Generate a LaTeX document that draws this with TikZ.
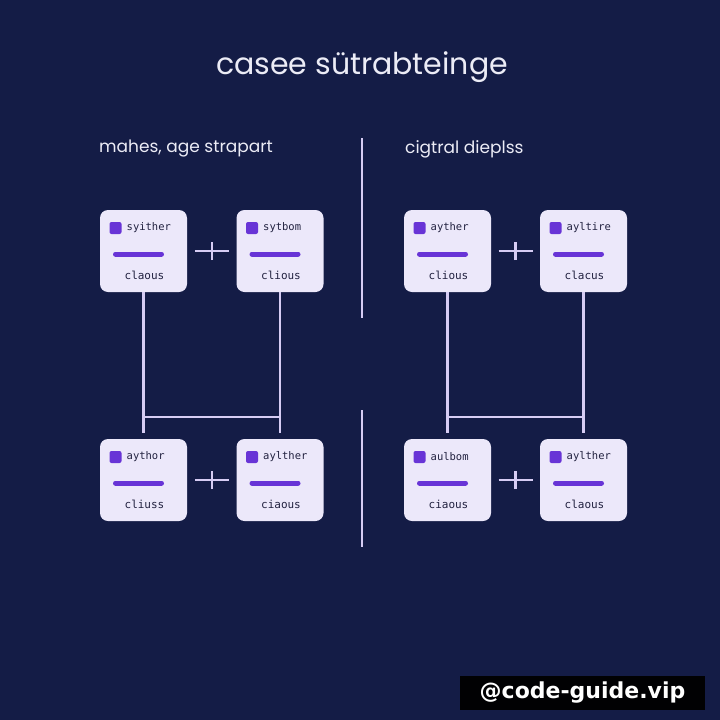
\documentclass[tikz,border=0pt]{standalone}
\usepackage{fontspec}
\setmainfont{Poppins}
\newfontfamily\cardfont{DejaVu Sans Mono}
\newfontfamily\wmfont{DejaVu Sans}
\usetikzlibrary{calc,positioning}
\definecolor{navybg}{RGB}{20,28,70}
\definecolor{cardfill}{RGB}{236,232,250}
\definecolor{purp}{RGB}{104,52,214}
\definecolor{linecol}{RGB}{214,204,244}
\definecolor{headcol}{RGB}{236,236,246}
\definecolor{cardtxt}{RGB}{34,34,64}

\begin{document}
\begin{tikzpicture}[x=1pt,y=-1pt,
  card/.style={fill=cardfill, rounded corners=8pt, minimum width=87pt, minimum height=82pt, inner sep=0pt},
  link/.style={draw=linecol, line width=2.2pt},
  head/.style={text=headcol, inner sep=0pt}]
  \useasboundingbox[fill=navybg] (0,0) rectangle (720,720);
  % 見出し
  \node[head, font=\fontsize{30}{36}\selectfont] (title) at (362,67) {casee sütrabteinge};
  \node[head, anchor=west, font=\fontsize{17}{20}\selectfont] (lhead) at (99,149) {mahes, age strapart};
  \node[head, anchor=west, font=\fontsize{17}{20}\selectfont] (rhead) at (405,149) {cigtral dieplss};
  % 中央の区切り
  \draw[link] (362,138) -- (362,318);
  \draw[link] (362,410) -- (362,547);
  % カード
  \foreach \n/\cx/\cy/\lab/\sub in {c1/143.5/251/syither/claous, c2/280/251/sytbom/clious,
      c3/447.5/251/ayther/clious, c4/583.5/251/ayltire/clacus,
      c5/143.5/480/aythor/cliuss, c6/280/480/aylther/ciaous,
      c7/447.5/480/aulbom/ciaous, c8/583.5/480/aylther/claous}{
    \node[card] (\n) at (\cx,\cy) {};
    \fill[purp, rounded corners=2pt] (\cx-34,\cy-29) rectangle (\cx-22,\cy-17);
    \node[anchor=west, inner sep=0pt, text=cardtxt, font=\cardfont\fontsize{10.5}{12}\selectfont] (\n-lab) at (\cx-17,\cy-23) {\lab};
    \draw[purp, line width=5pt, line cap=round] (\cx-28,\cy+3) -- (\cx+18,\cy+3);
    \node[inner sep=0pt, text=cardtxt, font=\cardfont\fontsize{11}{13}\selectfont] (\n-sub) at (\cx+1,\cy+24) {\sub};
  }
  % 接続線
  \coordinate (jl) at (0,417);
  \draw[link] (c1.south) -- ++(0,141);
  \draw[link] (c2.south) -- ++(0,141);
  \draw[link] (c1.south |- jl) -- (c2.south |- jl);
  \draw[link] (c3.south) -- ++(0,141);
  \draw[link] (c4.south) -- ++(0,141);
  \draw[link] (c3.south |- jl) -- (c4.south |- jl);
  % プラス記号
  \foreach \a/\b in {c1/c2, c3/c4, c5/c6, c7/c8}{
    \coordinate (p-\a) at ($(\a.east)!0.5!(\b.west)$);
    \draw[link] ([xshift=-17pt]p-\a) -- ([xshift=17pt]p-\a);
    \draw[link] ([yshift=-9pt]p-\a) -- ([yshift=9pt]p-\a);
  }
  % 透かし
  \node[fill=black!95!navybg, text=white, font=\wmfont\bfseries\fontsize{22}{26}\selectfont,
    minimum width=245pt, minimum height=34pt, inner sep=0pt] (wm) at (582.5,693) {@code-guide.vip};
\end{tikzpicture}
\end{document}
